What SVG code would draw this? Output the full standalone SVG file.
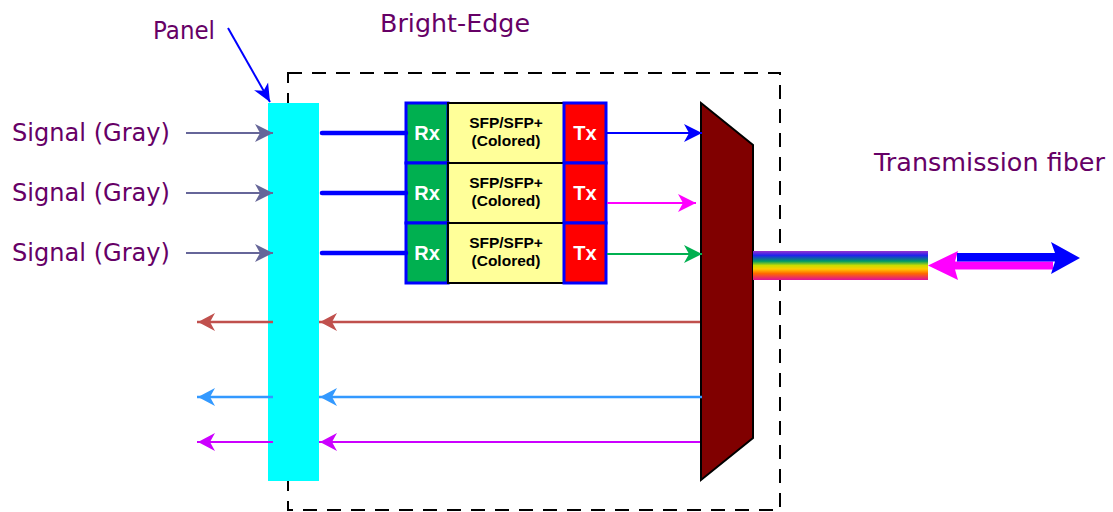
<svg xmlns="http://www.w3.org/2000/svg" width="1113" height="512" viewBox="0 0 1113 512">
<style>
.lbl{font-family:"DejaVu Sans","Noto Sans",sans-serif;font-size:25px;fill:#660066}
.sfp{font-family:"Liberation Sans",Arial,sans-serif;font-weight:bold;font-size:15.5px;fill:#000;text-anchor:middle}
.rt{font-family:"Liberation Sans",Arial,sans-serif;font-weight:bold;font-size:20px;fill:#fff;text-anchor:middle}
.rx{fill:#00b050;stroke:#0000ff;stroke-width:3}
.tx{fill:#ff0000;stroke:#0000ff;stroke-width:3}
.mid{fill:#ffff99;stroke:#000;stroke-width:2}
.in{stroke:#666699;stroke-width:2;fill:none}
.thick{stroke:#0000ff;stroke-width:4.5;stroke-linecap:round;fill:none}
</style>
<defs>
<marker id="aGray" markerUnits="userSpaceOnUse" markerWidth="20" markerHeight="20" refX="18" refY="10" orient="auto"><path d="M0,1 L18,10 L0,19 L5,10 Z" fill="#666699"/></marker>
<marker id="aBlue" markerUnits="userSpaceOnUse" markerWidth="20" markerHeight="20" refX="18" refY="10" orient="auto"><path d="M0,1 L18,10 L0,19 L5,10 Z" fill="#0000ff"/></marker>
<marker id="aMag" markerUnits="userSpaceOnUse" markerWidth="20" markerHeight="20" refX="18" refY="10" orient="auto"><path d="M0,1 L18,10 L0,19 L5,10 Z" fill="#ff00ff"/></marker>
<marker id="aGreen" markerUnits="userSpaceOnUse" markerWidth="20" markerHeight="20" refX="18" refY="10" orient="auto"><path d="M0,1 L18,10 L0,19 L5,10 Z" fill="#00b050"/></marker>
<marker id="aBrown" markerUnits="userSpaceOnUse" markerWidth="20" markerHeight="20" refX="18" refY="10" orient="auto"><path d="M0,1 L17,10 L0,19 L5,10 Z" fill="#c0504d"/></marker>
<marker id="aSky" markerUnits="userSpaceOnUse" markerWidth="20" markerHeight="20" refX="18" refY="10" orient="auto"><path d="M0,1 L17,10 L0,19 L5,10 Z" fill="#3399ff"/></marker>
<marker id="aViolet" markerUnits="userSpaceOnUse" markerWidth="20" markerHeight="20" refX="18" refY="10" orient="auto"><path d="M0,1 L17,10 L0,19 L5,10 Z" fill="#cc00ff"/></marker>
<marker id="aPanel" markerUnits="userSpaceOnUse" markerWidth="20" markerHeight="20" refX="18" refY="10" orient="auto"><path d="M0,2 L18,10 L0,18 L5,10 Z" fill="#0000ff"/></marker>
<linearGradient id="rainbow" x1="0" y1="0" x2="0" y2="1">
<stop offset="0" stop-color="#9933cc"/>
<stop offset="0.15" stop-color="#2222ee"/>
<stop offset="0.35" stop-color="#009966"/>
<stop offset="0.5" stop-color="#ccdd00"/>
<stop offset="0.62" stop-color="#ffcc00"/>
<stop offset="0.78" stop-color="#ff6600"/>
<stop offset="1" stop-color="#dd1199"/>
</linearGradient>
</defs>

<g id="bright-edge-box">
<rect x="288" y="73" width="492" height="437" fill="none" stroke="#000" stroke-width="2" stroke-dasharray="14,10"/>
<text class="lbl" x="380" y="32" textLength="150" lengthAdjust="spacingAndGlyphs">Bright-Edge</text>
</g>

<g id="signal-labels">
<text class="lbl" x="12" y="141" textLength="158" lengthAdjust="spacingAndGlyphs">Signal (Gray)</text>
<text class="lbl" x="12" y="201" textLength="158" lengthAdjust="spacingAndGlyphs">Signal (Gray)</text>
<text class="lbl" x="12" y="261" textLength="158" lengthAdjust="spacingAndGlyphs">Signal (Gray)</text>
</g>

<g id="panel">
<rect x="268" y="103" width="51" height="378" fill="#00ffff"/>
<text class="lbl" x="153" y="39" textLength="62" lengthAdjust="spacingAndGlyphs">Panel</text>
</g>

<g id="sfp1">
<rect class="rx" x="406" y="103" width="42" height="60"/>
<rect class="mid" x="448" y="103" width="116" height="60"/>
<rect class="tx" x="564" y="103" width="42" height="60"/>
<text class="rt" x="427" y="140">Rx</text>
<text class="sfp" x="506" y="128">SFP/SFP+</text>
<text class="sfp" x="506" y="146">(Colored)</text>
<text class="rt" x="585" y="140">Tx</text>
</g>
<g id="sfp2">
<rect class="rx" x="406" y="163" width="42" height="60"/>
<rect class="mid" x="448" y="163" width="116" height="60"/>
<rect class="tx" x="564" y="163" width="42" height="60"/>
<text class="rt" x="427" y="200">Rx</text>
<text class="sfp" x="506" y="188">SFP/SFP+</text>
<text class="sfp" x="506" y="206">(Colored)</text>
<text class="rt" x="585" y="200">Tx</text>
</g>
<g id="sfp3">
<rect class="rx" x="406" y="223" width="42" height="60"/>
<rect class="mid" x="448" y="223" width="116" height="60"/>
<rect class="tx" x="564" y="223" width="42" height="60"/>
<text class="rt" x="427" y="260">Rx</text>
<text class="sfp" x="506" y="248">SFP/SFP+</text>
<text class="sfp" x="506" y="266">(Colored)</text>
<text class="rt" x="585" y="260">Tx</text>
</g>

<g id="mux">
<polygon points="701,103 753,145 753,438 701,480" fill="#800000" stroke="#000" stroke-width="2"/>
</g>

<g id="fiber">
<rect x="753" y="251" width="175" height="29" fill="url(#rainbow)"/>
<text class="lbl" x="874" y="171" textLength="231" lengthAdjust="spacingAndGlyphs">Transmission fiber</text>
<polygon points="958,251 928,265.5 958,280 955,269.5 1053,269.5 1053,261.5 955,261.5" fill="#ff00ff"/>
<polygon points="1051,242 1080,258 1051,274 1055,261.5 957,261.5 957,253 1055,253" fill="#0000ff"/>
</g>

<g id="connectors">
<line x1="228" y1="28" x2="270" y2="102" stroke="#0000ff" stroke-width="2" marker-end="url(#aPanel)"/>
<line class="in" x1="186" y1="133" x2="273" y2="133" marker-end="url(#aGray)"/>
<line class="in" x1="186" y1="193" x2="273" y2="193" marker-end="url(#aGray)"/>
<line class="in" x1="186" y1="253" x2="273" y2="253" marker-end="url(#aGray)"/>
<line class="thick" x1="322" y1="133" x2="406" y2="133"/>
<line class="thick" x1="322" y1="193" x2="406" y2="193"/>
<line class="thick" x1="322" y1="253" x2="406" y2="253"/>
<line x1="607" y1="133" x2="702" y2="133" stroke="#0000ff" stroke-width="2" marker-end="url(#aBlue)"/>
<line x1="607" y1="203" x2="696" y2="203" stroke="#ff00ff" stroke-width="2" marker-end="url(#aMag)"/>
<line x1="607" y1="254" x2="702" y2="254" stroke="#00b050" stroke-width="2" marker-end="url(#aGreen)"/>
<line x1="700" y1="322" x2="319" y2="322" stroke="#c0504d" stroke-width="2.5" marker-end="url(#aBrown)"/>
<line x1="273" y1="322" x2="197" y2="322" stroke="#c0504d" stroke-width="2.5" marker-end="url(#aBrown)"/>
<line x1="702" y1="397" x2="319" y2="397" stroke="#3399ff" stroke-width="2.5" marker-end="url(#aSky)"/>
<line x1="273" y1="397" x2="197" y2="397" stroke="#3399ff" stroke-width="2.5" marker-end="url(#aSky)"/>
<line x1="700" y1="442" x2="319" y2="442" stroke="#cc00ff" stroke-width="2" marker-end="url(#aViolet)"/>
<line x1="273" y1="442" x2="197" y2="442" stroke="#cc00ff" stroke-width="2" marker-end="url(#aViolet)"/>
</g>
</svg>
